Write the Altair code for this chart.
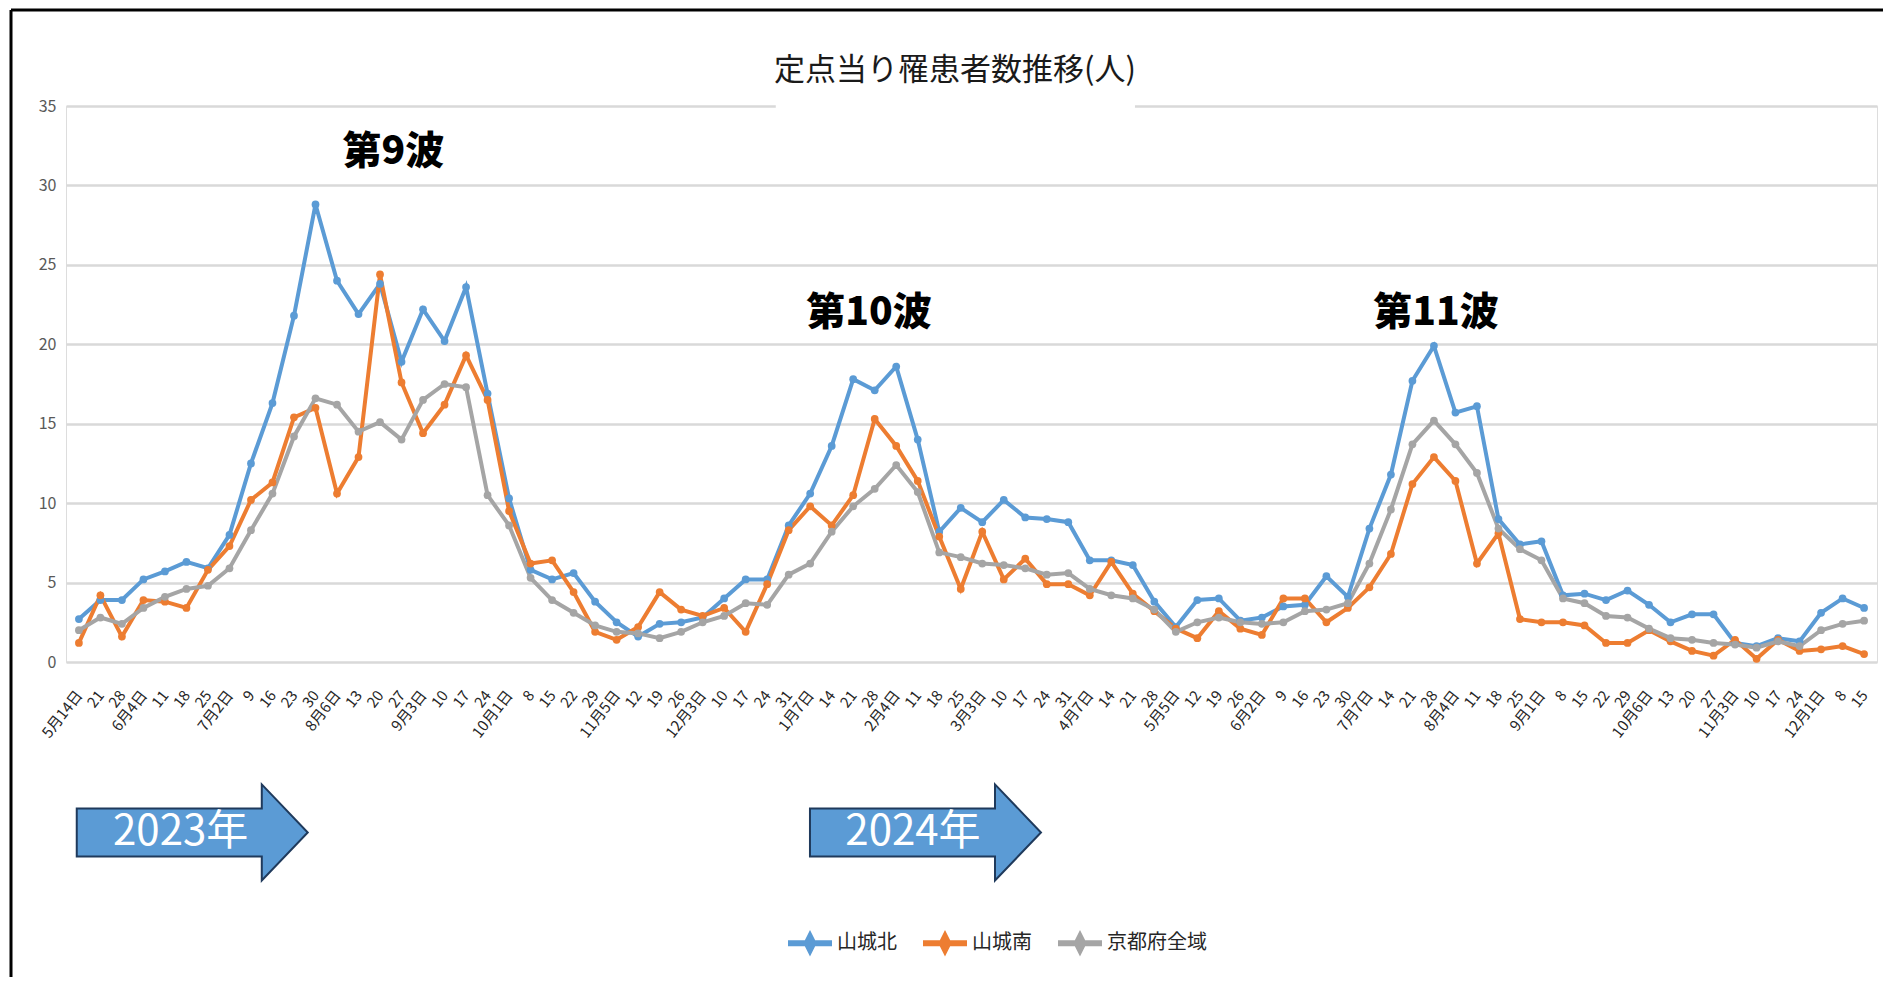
import altair as alt
import pandas as pd

# ---------------- data ----------------
weeks = ["5月14日", "21", "28", "6月4日", "11", "18", "25", "7月2日", "9", "16", "23", "30",
         "8月6日", "13", "20", "27", "9月3日", "10", "17", "24", "10月1日", "8", "15", "22", "29",
         "11月5日", "12", "19", "26", "12月3日", "10", "17", "24", "31", "1月7日", "14", "21", "28",
         "2月4日", "11", "18", "25", "3月3日", "10", "17", "24", "31", "4月7日", "14", "21", "28",
         "5月5日", "12", "19", "26", "6月2日", "9", "16", "23", "30", "7月7日", "14", "21", "28",
         "8月4日", "11", "18", "25", "9月1日", "8", "15", "22", "29", "10月6日", "13", "20", "27",
         "11月3日", "10", "17", "24", "12月1日", "8", "15"]

series_names = ["山城北", "山城南", "京都府全域"]

yamashiro_kita = [2.7, 3.9, 3.9, 5.2, 5.7, 6.3, 5.9, 8.0, 12.5, 16.3, 21.8, 28.8,
                  24.0, 21.9, 23.8, 18.9, 22.2, 20.2, 23.6, 16.9, 10.3, 5.8, 5.2, 5.6, 3.8,
                  2.5, 1.6, 2.4, 2.5, 2.8, 4.0, 5.2, 5.2, 8.6, 10.6, 13.6, 17.8, 17.1,
                  18.6, 14.0, 8.2, 9.7, 8.8, 10.2, 9.1, 9.0, 8.8, 6.4, 6.4, 6.1, 3.8,
                  2.2, 3.9, 4.0, 2.6, 2.8, 3.5, 3.6, 5.4, 4.1, 8.4, 11.8, 17.7, 19.9,
                  15.7, 16.1, 9.0, 7.4, 7.6, 4.2, 4.3, 3.9, 4.5, 3.6, 2.5, 3.0, 3.0,
                  1.2, 1.0, 1.5, 1.3, 3.1, 4.0, 3.4]

yamashiro_minami = [1.2, 4.2, 1.6, 3.9, 3.8, 3.4, 5.8, 7.3, 10.2, 11.3, 15.4, 16.0,
                    10.6, 12.9, 24.4, 17.6, 14.4, 16.2, 19.3, 16.5, 9.5, 6.2, 6.4, 4.4, 1.9,
                    1.4, 2.2, 4.4, 3.3, 2.9, 3.4, 1.9, 4.9, 8.3, 9.8, 8.6, 10.5, 15.3,
                    13.6, 11.4, 7.9, 4.6, 8.2, 5.2, 6.5, 4.9, 4.9, 4.2, 6.3, 4.3, 3.2,
                    2.1, 1.5, 3.2, 2.1, 1.7, 4.0, 4.0, 2.5, 3.4, 4.7, 6.8, 11.2, 12.9,
                    11.4, 6.2, 8.1, 2.7, 2.5, 2.5, 2.3, 1.2, 1.2, 2.0, 1.3, 0.7, 0.4,
                    1.4, 0.2, 1.4, 0.7, 0.8, 1.0, 0.5]

kyoto_all = [2.0, 2.8, 2.4, 3.4, 4.1, 4.6, 4.8, 5.9, 8.3, 10.6, 14.2, 16.6,
             16.2, 14.5, 15.1, 14.0, 16.5, 17.5, 17.3, 10.5, 8.6, 5.3, 3.9, 3.1, 2.3,
             1.9, 1.8, 1.5, 1.9, 2.5, 2.9, 3.7, 3.6, 5.5, 6.2, 8.2, 9.8, 10.9,
             12.4, 10.7, 6.9, 6.6, 6.2, 6.1, 5.9, 5.5, 5.6, 4.6, 4.2, 4.0, 3.3,
             1.9, 2.5, 2.8, 2.5, 2.4, 2.5, 3.2, 3.3, 3.7, 6.2, 9.6, 13.7, 15.2,
             13.7, 11.9, 8.4, 7.1, 6.4, 4.0, 3.7, 2.9, 2.8, 2.1, 1.5, 1.4, 1.2,
             1.1, 0.9, 1.3, 1.0, 2.0, 2.4, 2.6]

y_ticks = [0, 5, 10, 15, 20, 25, 30, 35]

chart_title = "定点当り罹患者数推移(人)"
title_idx = [40.73]
title_val = [37.2]

wave_labels = ["第9波", "第10波", "第11波"]
wave_idx = [14.62, 36.73, 63.1]
wave_val = [32.1, 22.0, 22.0]

year_labels = ["2023年", "2024年"]
year_arrow_idx = [5.27, 39.36]
year_text_idx = [4.73, 38.78]
year_val = [-10.73, -10.73]

# ---------------- styling ----------------
colors = ["#5B9BD5", "#ED7D31", "#A5A5A5"]
CJK = "Noto Sans CJK JP"
NARROW = "'Liberation Sans Narrow', 'Noto Sans CJK JP'"
W, H = 1811, 556

rows = []
for name, vals in zip(series_names, [yamashiro_kita, yamashiro_minami, kyoto_all]):
    for i, v in enumerate(vals):
        rows.append({"idx": i, "value": v, "series": name})
df = pd.DataFrame(rows)

label_expr = "[" + ",".join("'" + w + "'" for w in weeks) + "][datum.value]"

x_enc = alt.X("idx:Q",
              scale=alt.Scale(domain=[-0.6, len(weeks) - 1 + 0.6], nice=False, zero=False),
              axis=alt.Axis(values=list(range(len(weeks))), labelExpr=label_expr,
                            labelAngle=-52, labelAlign="right", labelBaseline="middle",
                            labelPadding=30, labelOverlap=False, labelBound=False,
                            labelFont=NARROW, labelFontSize=15, labelColor="#262626",
                            grid=False, ticks=False, domain=False, title=None))
y_enc = alt.Y("value:Q",
              scale=alt.Scale(domain=[0, 35], nice=False, zero=False),
              axis=alt.Axis(values=y_ticks, grid=True, gridColor="#D9D9D9", gridWidth=2.5,
                            ticks=False, domain=False, labelFont=NARROW, labelFontSize=16,
                            labelColor="#595959", labelPadding=10, title=None))

legend_path = "M-1,0L1,0M0,-0.3L0.15,0L0,0.3L-0.15,0Z"

lines = alt.Chart(df).mark_line(
    strokeWidth=4,
    point=alt.OverlayMarkDef(filled=True, size=60, opacity=1),
).encode(
    x=x_enc, y=y_enc,
    color=alt.Color("series:N", sort=series_names,
                    scale=alt.Scale(domain=series_names, range=colors),
                    legend=alt.Legend(title=None, orient="none", direction="horizontal",
                                      legendX=719, legendY=812,
                                      symbolType=legend_path, symbolSize=1936,
                                      symbolStrokeWidth=6, labelFont=CJK,
                                      labelFontSize=20, labelColor="#262626",
                                      columnPadding=14, labelOffset=2)),
)

# white box that interrupts the top gridline behind the title
gap_df = pd.DataFrame({"idx": [32.4], "idx2": [49.1], "value": [34.6], "value2": [35.5]})
gap = alt.Chart(gap_df).mark_rect(color="white").encode(
    x=x_enc, x2="idx2:Q", y=y_enc, y2="value2:Q")

title_df = pd.DataFrame({"idx": title_idx, "value": title_val, "label": [chart_title]})
title = alt.Chart(title_df).mark_text(
    font=CJK, fontSize=31, color="#1a1a1a", baseline="middle", align="center"
).encode(x=x_enc, y=y_enc, text="label:N")

waves_df = pd.DataFrame({"idx": wave_idx, "value": wave_val, "label": wave_labels})
waves = alt.Chart(waves_df).mark_text(
    font=CJK, fontSize=39, fontWeight=900, color="#000000", baseline="middle"
).encode(x=x_enc, y=y_enc, text="label:N")

arrow_path = "M-1,-0.208L0.602,-0.208L0.602,-0.416L1,0L0.602,0.416L0.602,0.208L-1,0.208Z"
arrows_df = pd.DataFrame({"idx": year_arrow_idx, "value": year_val})
arrows = alt.Chart(arrows_df).mark_point(
    shape=arrow_path, size=231 * 231, filled=True, fill="#5B9BD5",
    stroke="#1F3A5C", strokeWidth=2, opacity=1
).encode(x=x_enc, y=y_enc)

year_df = pd.DataFrame({"idx": year_text_idx, "value": year_val, "label": year_labels})
years = alt.Chart(year_df).mark_text(
    font=CJK, fontSize=42, color="white", baseline="middle", align="center"
).encode(x=x_enc, y=y_enc, text="label:N")

frame_df = pd.DataFrame({"k": [0]})
frame_top = alt.Chart(frame_df).mark_rule(color="black", strokeWidth=3).encode(
    x=alt.value(-55), x2=alt.value(W + 6), y=alt.value(-96))
frame_left = alt.Chart(frame_df).mark_rule(color="black", strokeWidth=3).encode(
    x=alt.value(-55), y=alt.value(-96), y2=alt.value(H + 320))

chart = alt.layer(gap, lines, title, waves, arrows, years, frame_top, frame_left).properties(
    width=W, height=H,
    autosize=alt.AutoSizeParams(type="none"),
    padding={"left": 58, "top": 98, "right": 6, "bottom": 315},
).configure_view(stroke=None).configure(background="white")

chart.save("out.html", embed_options={"renderer": "svg", "actions": False})
